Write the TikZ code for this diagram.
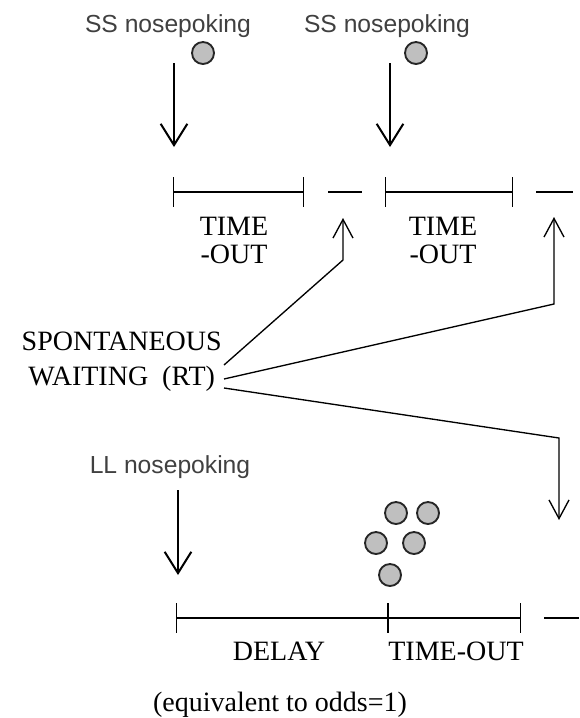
\documentclass[tikz,border=0pt]{standalone}
\usepackage{fontspec}
\setmainfont{Liberation Serif}
\setsansfont{Liberation Sans}
\usetikzlibrary{arrows.meta,calc}
\begin{document}
\begin{tikzpicture}[x=0.75pt, y=-0.75pt, >={Straight Barb[length=16pt,width=20pt]}]
    \tikzstyle{poke}=[font=\sffamily\fontsize{18.5}{18.5}\selectfont, text=black!75, anchor=base, inner sep=0pt]
    \tikzstyle{lbl}=[font=\fontsize{21}{21}\selectfont, align=center, inner sep=0pt]
    \tikzstyle{ball}=[circle, draw=black!85, fill=black!25, line width=1.4pt, minimum size=16.5pt, inner sep=0pt]
    \tikzstyle{interval}=[line width=1.1pt, {Bar[width=22pt]}-{Bar[width=22pt]}]
    \tikzstyle{pause}=[line width=1.1pt]
    \tikzstyle{pokearrow}=[->, line width=1.5pt]
    \tikzstyle{link}=[-{Straight Barb[length=14pt,width=15pt]}, line width=1pt]

    \useasboundingbox (0,0) rectangle (579,718);

    % Nosepoke
    \node[poke] (ss1) at (168,32) {SS nosepoking};
    \node[poke] (ss2) at (387,32) {SS nosepoking};
    \node[poke] (ll) at (170,473) {LL nosepoking};

    \coordinate (s1) at (174,63);  \coordinate (e1) at (174,147);
    \coordinate (s2) at (390,63);  \coordinate (e2) at (390,147);
    \coordinate (s3) at (178,490); \coordinate (e3) at (178,575);
    \draw[pokearrow] (s1) -- (e1);
    \draw[pokearrow] (s2) -- (e2);
    \draw[pokearrow] (s3) -- (e3);

    % Pellets
    \node[ball] (p1) at (203,53) {};
    \node[ball] (p2) at (416,53) {};
    \node[ball] (q1) at (396,513) {};
    \node[ball] (q2) at (428,513) {};
    \node[ball] (q3) at (376,543) {};
    \node[ball] (q4) at (414,543) {};
    \node[ball] (q5) at (390,575) {};

    % Timelines
    \draw[interval] (173,192) -- (304,192);
    \draw[pause] (328,192) -- (362,192);
    \draw[interval] (385,192) -- (513,192);
    \draw[pause] (536,192) -- (573,192);

    \draw[interval] (176,618) -- (388,618);
    \draw[interval] (388,618) -- (521,618);
    \draw[pause] (544,618) -- (579,618);

    % Labels
    \node[lbl] (to1) at (234,240) {TIME\\-OUT};
    \node[lbl] (to2) at (443,240) {TIME\\-OUT};
    \node[lbl, anchor=base] (delay) at (279,660) {DELAY};
    \node[lbl, anchor=base] (to3) at (456,660) {TIME-OUT};
    \node[lbl, anchor=base] (odds) at (280,711) {(equivalent to odds=1)};
    \node[lbl, anchor=east] (wait) at (222,362) {SPONTANEOUS\\[5.25pt]WAITING~~(RT)};

    % Waiting
    \coordinate (u1) at (343,218);
    \coordinate (u2) at (554,217);
    \coordinate (d1) at (559,520);
    \draw[link] ($(wait.east)+(2,3)$) -- (343,260) -- (u1);
    \draw[link] ($(wait.east)+(2,17)$) -- (554,304) -- (u2);
    \draw[link] ($(wait.east)+(2,26)$) -- (559,438) -- (d1);
\end{tikzpicture}
\end{document}
